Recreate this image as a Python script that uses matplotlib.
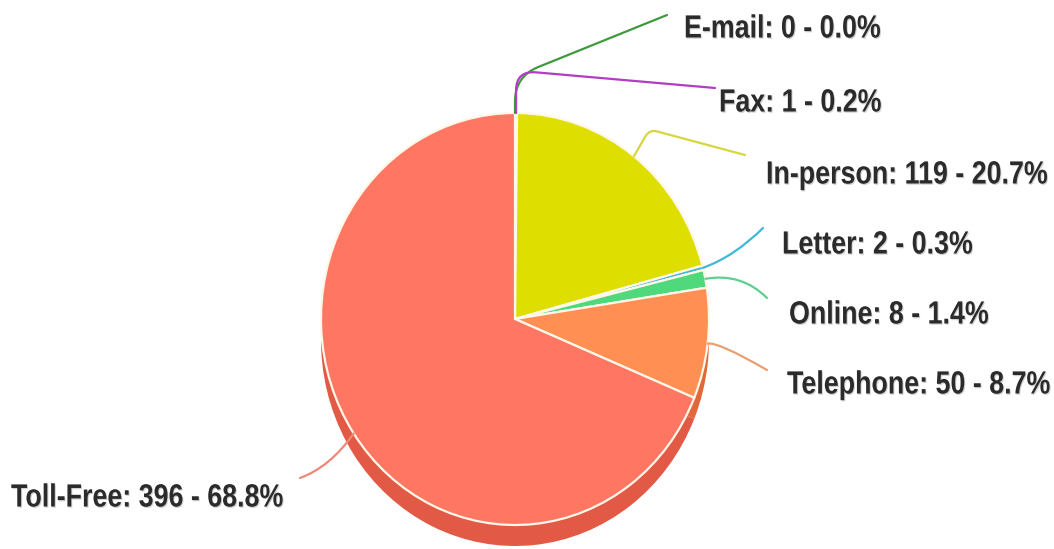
import numpy as np
import matplotlib.pyplot as plt
from matplotlib.textpath import TextPath
from matplotlib.patches import PathPatch
from matplotlib.font_manager import FontProperties
from matplotlib.transforms import Affine2D

# contact channels, drawn clockwise from 12 o'clock
channels = ["E-mail", "Fax", "In-person", "Letter", "Online", "Telephone", "Toll-Free"]
counts = [0, 1, 119, 2, 8, 50, 396]
percents = [0.0, 0.2, 20.7, 0.3, 1.4, 8.7, 68.8]

colors = ["#3f9a3f", "#b23cc4", "#dede00", "#40b8d8", "#4fd97c", "#ff8f52", "#ff7663"]
side_colors = ["#2f7a2f", "#8a2a9a", "#b5b500", "#2f90aa", "#3aae60", "#e0683a", "#e25a45"]
line_colors = ["#3f9a3f", "#b23cc4", "#d6d640", "#40b8d8", "#5fcf8f", "#e8a070", "#ee8878"]

# label layout in pixels: (text left x, text centre y, leader end x, leader end y, connection style)
label_px = {
    "E-mail":    (684, 26, 667, 15, "angle,angleA=90,angleB=22,rad=25"),
    "Fax":       (719, 100, 715, 88, "angle,angleA=90,angleB=-5,rad=20"),
    "In-person": (766, 172, 745, 155, "angle,angleA=-120,angleB=165,rad=8"),
    "Letter":    (782, 242, 763, 228, "angle3,angleA=20,angleB=45"),
    "Online":    (789, 312, 767, 298, "angle3,angleA=10,angleB=-45"),
    "Telephone": (787, 382, 767, 370, "angle3,angleA=15,angleB=-30"),
    "Toll-Free": (11, 495, 300, 478, "angle3,angleA=235,angleB=200"),
}

W, H = 1054, 549
CX, CY, RX, RY = 515, 319, 194, 206
DEPTH = 21
CAP = 23          # cap height of label text, px
SQUEEZE = 0.835   # horizontal squeeze to get a narrow face


def px(x, y):
    return (x - CX) / RX, (CY - y) / RY


fig = plt.figure(figsize=(W / 100, H / 100), dpi=100)
ax = fig.add_axes([0, 0, 1, 1])

# side of the disc: same pie shifted down in darker tones
ax.pie(counts, colors=side_colors, startangle=90, counterclock=False,
       center=(0, -DEPTH / RY), radius=1.0,
       wedgeprops=dict(linewidth=0))
ax.pie(counts, colors=colors, startangle=90, counterclock=False,
       center=(0, 0), radius=1.0,
       wedgeprops=dict(edgecolor="#fff8e8", linewidth=1.6))

ax.set_aspect("auto")
ax.set_xlim(-CX / RX, (W - CX) / RX)
ax.set_ylim(-(H - CY) / RY, CY / RY)
ax.axis("off")

# overlay in pixel units for the labels
lab = fig.add_axes([0, 0, 1, 1])
lab.set_xlim(0, W)
lab.set_ylim(0, H)
lab.axis("off")
lab.patch.set_alpha(0)

font = FontProperties(family="Liberation Sans", weight="bold")
fsize = CAP / 0.716


def narrow_text(x, y, s):
    tp = TextPath((0, 0), s, size=fsize, prop=font)
    base = H - (y + CAP / 2)
    shadow = Affine2D().scale(SQUEEZE, 1).translate(x + 1, base - 1.2) + lab.transData
    lab.add_patch(PathPatch(tp, facecolor="#9a9a9a", edgecolor="none", alpha=0.45, transform=shadow))
    tr = Affine2D().scale(SQUEEZE, 1).translate(x, base) + lab.transData
    lab.add_patch(PathPatch(tp, facecolor="#2b2b2b", edgecolor="none", transform=tr))


total = sum(counts)
angle = 90.0
for name, n, pct, lc in zip(channels, counts, percents, line_colors):
    span = 360.0 * n / total
    mid = np.deg2rad(angle - span / 2)
    angle -= span
    anchor = (np.cos(mid), np.sin(mid))
    tx, ty, ex, ey, conn = label_px[name]
    ax.annotate("", xy=px(ex, ey), xytext=anchor,
                arrowprops=dict(arrowstyle="-", color=lc, lw=1.6,
                                shrinkA=0, shrinkB=0, connectionstyle=conn))
    narrow_text(tx, ty, f"{name}: {n} - {pct:.1f}%")

fig.savefig("out.png", dpi=100)
